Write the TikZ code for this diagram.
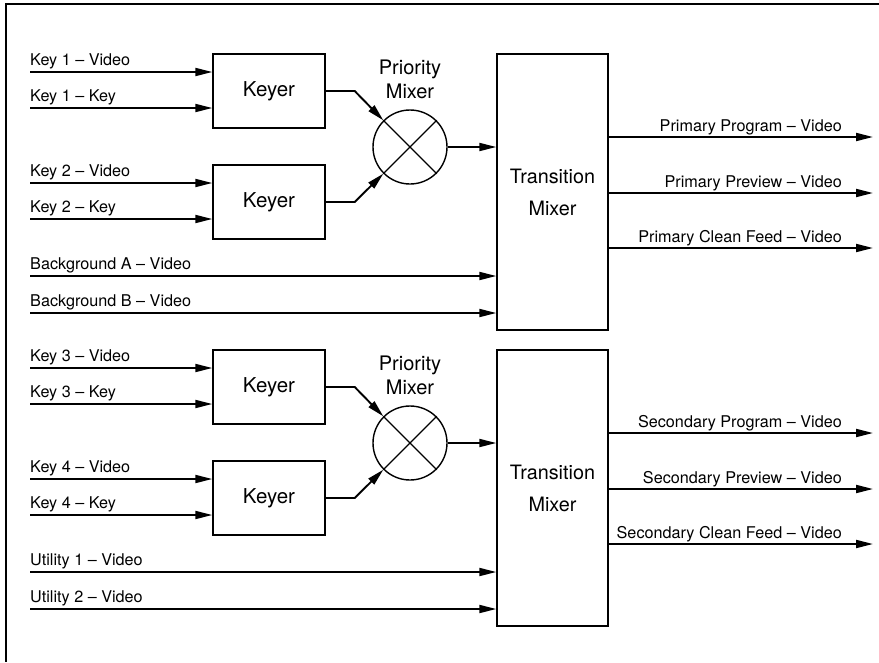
\documentclass[tikz,border=0pt]{standalone}
\usepackage{fontspec}
\setmainfont{TeX Gyre Heros}
\usetikzlibrary{arrows.meta}
\begin{document}
\begin{tikzpicture}[x=1pt,y=-1pt,
  sig/.style={line width=1.9pt, -{Triangle[length=17pt,width=8pt]}},
  keybox/.style={draw, line width=1.4pt, minimum width=112pt, minimum height=74pt,
    inner sep=0pt, font=\fontsize{20.5}{24}\selectfont},
  mixer/.style={draw, circle, line width=1.4pt, minimum size=74pt, inner sep=0pt},
  cross/.style={line width=1.3pt},
  mixlabel/.style={align=center, inner sep=0pt, font=\fontsize{20}{24}\selectfont},
  tbox/.style={draw, line width=1.4pt, minimum width=111pt, minimum height=276pt,
    inner sep=0pt, align=center, font=\fontsize{19.8}{32}\selectfont},
  inlabel/.style={anchor=base west, inner sep=0pt, font=\fontsize{16.2}{19}\selectfont},
  outlabel/.style={anchor=base east, inner sep=0pt, font=\fontsize{16.2}{19}\selectfont}]

\useasboundingbox (0,0) rectangle (879,662);

% frame edges along the top and left
\coordinate (frameTR) at (879,4);
\coordinate (frameTL) at (6,4);
\coordinate (frameBL) at (6,662);
\draw[line width=1.5pt] (frameTR) -- (frameTL) -- (frameBL);

% two identical switcher stages, the second one 296 units further down
\foreach \h/\o/\ka/\kb/\bga/\bgb/\dest in
  {1/0/1/2/Background A/Background B/Primary,
   2/296/3/4/Utility 1/Utility 2/Secondary} {

  % keyers, priority mixer and transition mixer
  \node[keybox] (kya\h) at (269,91+\o) {Keyer};
  \node[keybox] (kyb\h) at (269,202+\o) {Keyer};
  \node[mixer] (pm\h) at (410,147+\o) {};
  \draw[cross] (pm\h.45) -- (pm\h.225) (pm\h.135) -- (pm\h.315);
  \node[mixlabel, anchor=south] (pml\h) at ([yshift=10pt]pm\h.north) {Priority\\Mixer};
  \node[tbox] (tm\h) at (552.5,192+\o) {Transition\\Mixer};

  % input signals
  \coordinate (ia\h) at (30,72+\o);
  \coordinate (ib\h) at (30,108+\o);
  \coordinate (ic\h) at (30,183+\o);
  \coordinate (id\h) at (30,219+\o);
  \coordinate (ie\h) at (30,276+\o);
  \coordinate (if\h) at (30,313+\o);

  \draw[sig] (ia\h) -- (ia\h -| kya\h.west);
  \draw[sig] (ib\h) -- (ib\h -| kya\h.west);
  \draw[sig] (ic\h) -- (ic\h -| kyb\h.west);
  \draw[sig] (id\h) -- (id\h -| kyb\h.west);
  \draw[sig] (ie\h) -- (ie\h -| tm\h.west);
  \draw[sig] (if\h) -- (if\h -| tm\h.west);

  \node[inlabel] (la\h) at ([yshift=7pt]ia\h) {Key \ka{} – Video};
  \node[inlabel] (lb\h) at ([yshift=7pt]ib\h) {Key \ka{} – Key};
  \node[inlabel] (lc\h) at ([yshift=7pt]ic\h) {Key \kb{} – Video};
  \node[inlabel] (ld\h) at ([yshift=7pt]id\h) {Key \kb{} – Key};
  \node[inlabel] (le\h) at ([yshift=7pt]ie\h) {\bga{} – Video};
  \node[inlabel] (lf\h) at ([yshift=7pt]if\h) {\bgb{} – Video};

  % keyers into the priority mixer, priority mixer into the transition mixer
  \draw[sig] (kya\h.east) -- ++(29,0) -- (pm\h.135);
  \draw[sig] (kyb\h.east) -- ++(29,0) -- (pm\h.225);
  \draw[sig] (pm\h.east) -- (pm\h.east -| tm\h.west);

  % outputs
  \coordinate (oa\h) at (873,137+\o);
  \coordinate (ob\h) at (873,193+\o);
  \coordinate (oc\h) at (873,248+\o);
  \draw[sig] (oa\h -| tm\h.east) -- (oa\h);
  \draw[sig] (ob\h -| tm\h.east) -- (ob\h);
  \draw[sig] (oc\h -| tm\h.east) -- (oc\h);
  \node[outlabel] (lo\h) at ([xshift=-31pt,yshift=6pt]oa\h) {\dest{} Program – Video};
  \node[outlabel] (lp\h) at ([xshift=-31pt,yshift=6pt]ob\h) {\dest{} Preview – Video};
  \node[outlabel] (lq\h) at ([xshift=-31pt,yshift=6pt]oc\h) {\dest{} Clean Feed – Video};
}
\end{tikzpicture}
\end{document}
